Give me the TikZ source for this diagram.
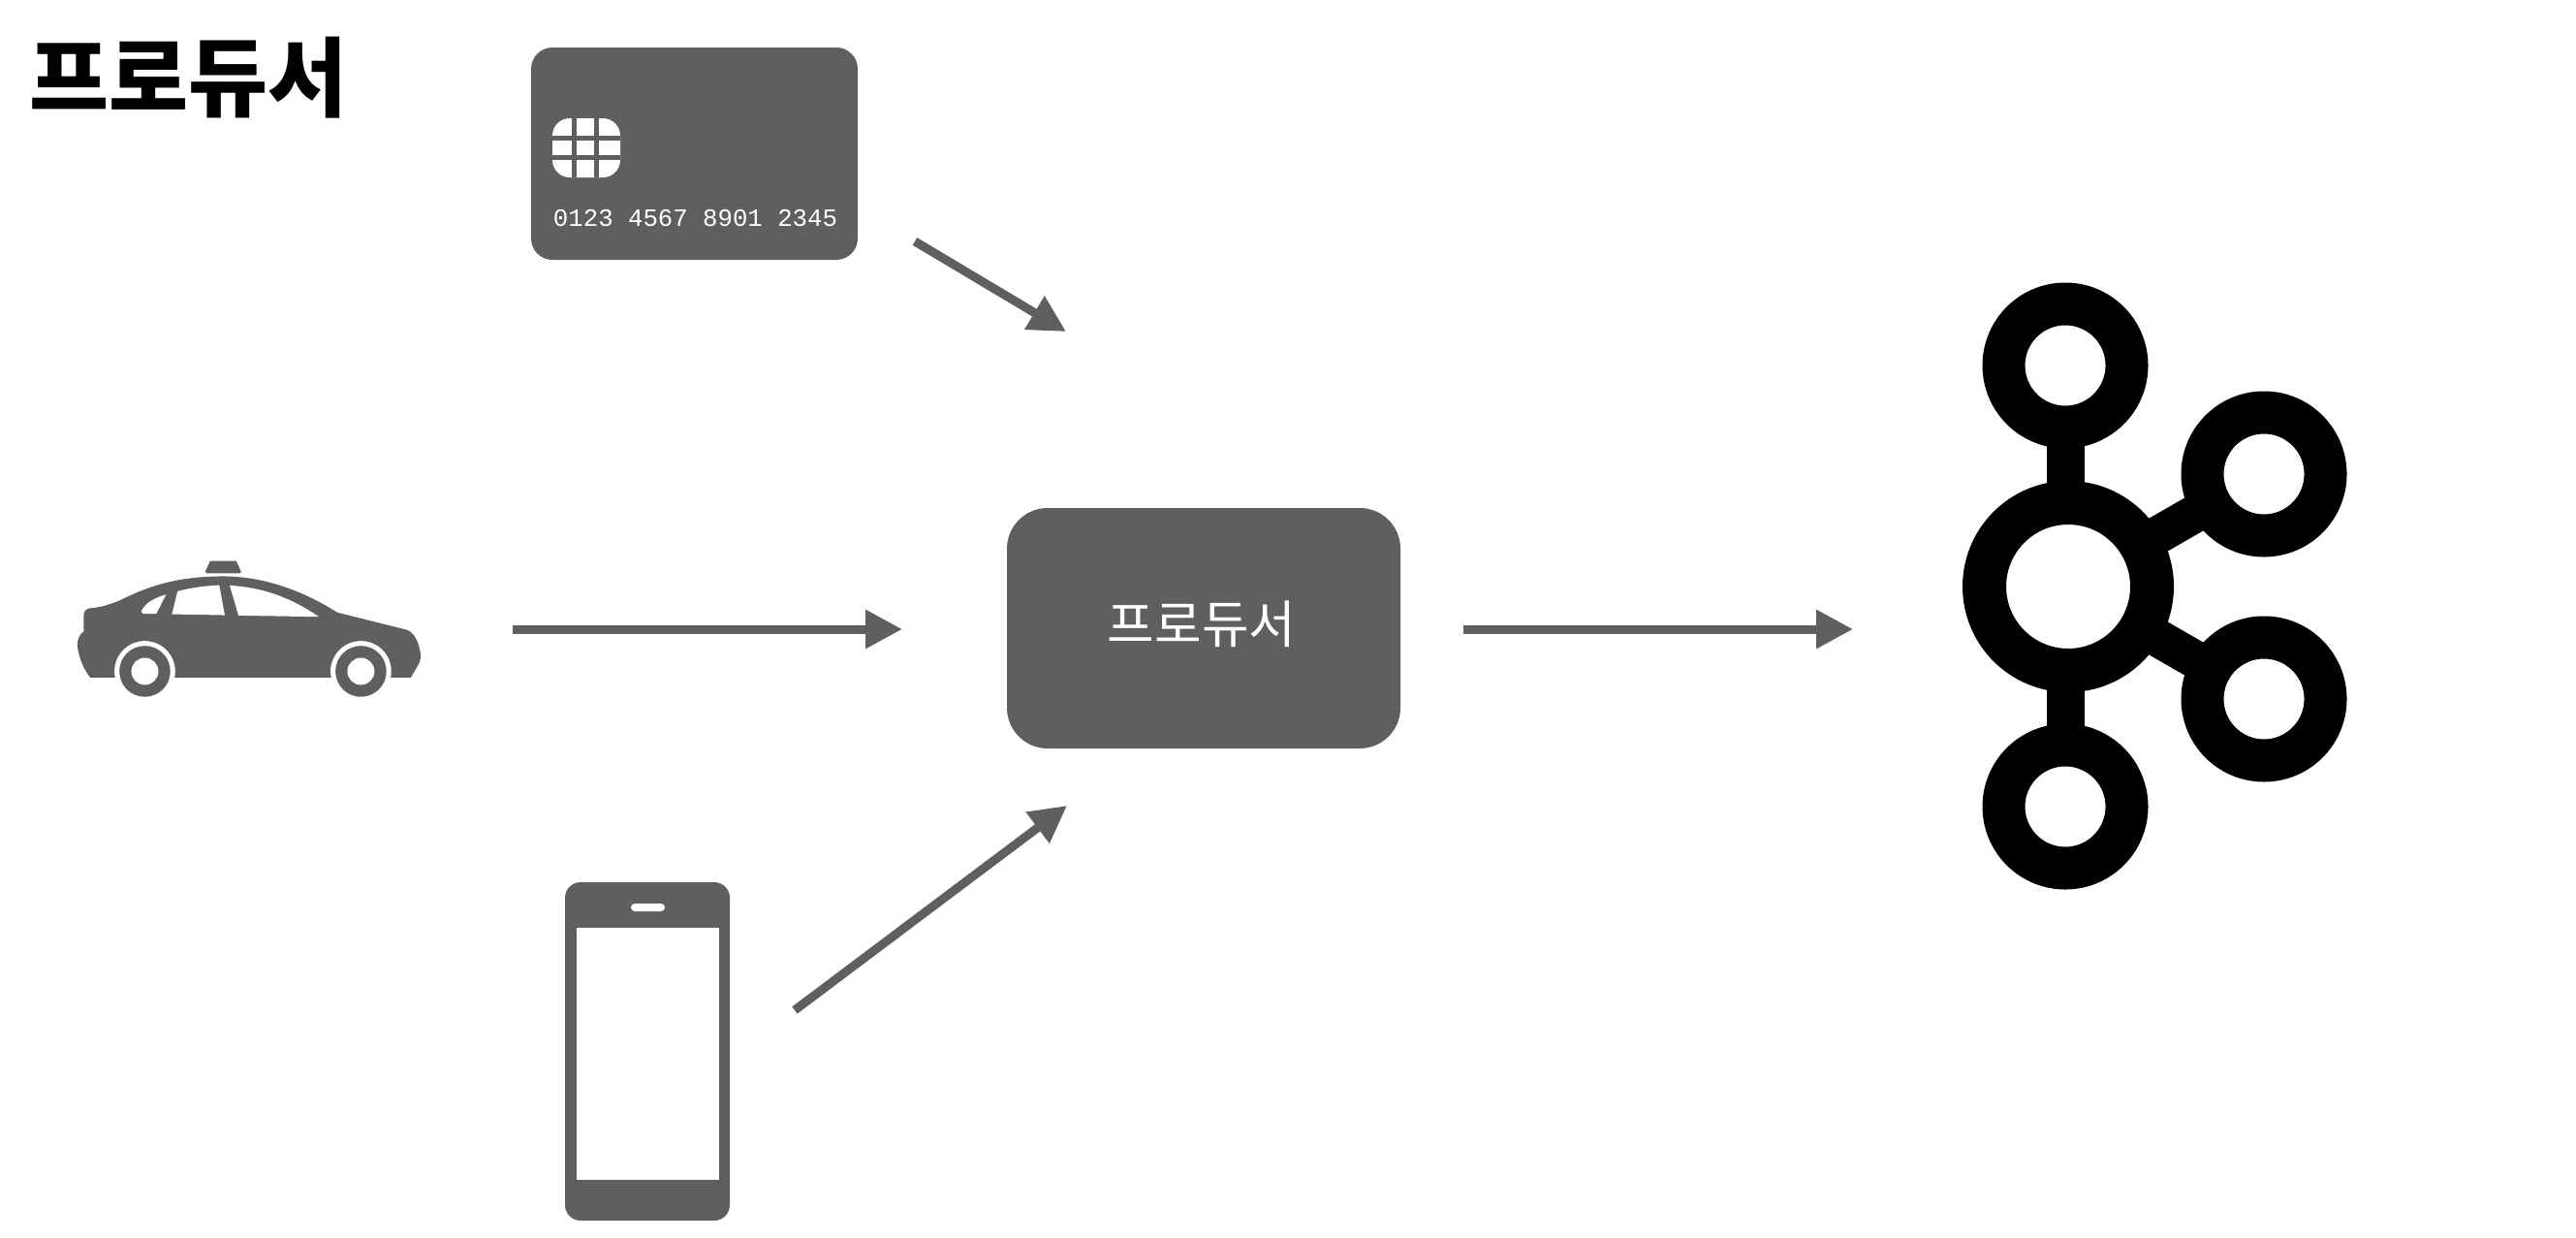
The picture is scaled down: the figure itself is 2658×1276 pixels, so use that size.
\documentclass[tikz,border=0pt]{standalone}
\usepackage{fontspec}
\usetikzlibrary{arrows.meta}
\newfontfamily\krfont{Noto Sans CJK KR}
\setmonofont{Liberation Mono}
\definecolor{ink}{HTML}{5F5F5F}
\tikzset{
  x=0.5pt,y=-0.5pt,
  flow/.style={draw=ink,line width=4.5pt,-{Triangle[length=19pt,width=19pt,fill=ink]}},
  panel/.style={fill=ink,draw=none,inner sep=0pt,outer sep=0pt},
  ring/.style={circle,draw=black,fill=white,inner sep=0pt,outer sep=0pt},
  bar/.style={draw=black,line width=19.5pt},
  chipline/.style={draw=ink,line width=2.5pt},
}
\begin{document}
\begin{tikzpicture}
\path[fill=white] (0,0) rectangle (2658,1276);
\useasboundingbox (0,0) rectangle (2658,1276);

% title
\node[inner sep=0pt,text=black] (title) at (194.5,80) {\fontsize{44.6}{44.6}\krfont\bfseries 프로듀서};

% card
\node[panel,rounded corners=11pt,minimum width=168.5pt,minimum height=109.5pt] (card) at (716.5,158.5) {};
\node[fill=white,rounded corners=9pt,minimum width=35pt,minimum height=30.5pt,inner sep=0pt] (chip) at (605,152.5) {};
\draw[chipline] (592.5,122) -- (592.5,183);
\draw[chipline] (615.5,122) -- (615.5,183);
\draw[chipline] (570,142) -- (640,142);
\draw[chipline] (570,162) -- (640,162);
\node[text=white,inner sep=0pt] (cardno) at (717.5,225) {\fontsize{12.85}{13}\ttfamily 0123 4567 8901 2345};

% car
\begin{scope}[shift={(40,550)},x=0.1684pt,y=-0.1684pt]
\fill[ink] (158,442) -- (1140,442) .. controls (1155,415) and (1170,395) .. (1170,380)
  .. controls (1170,350) and (1155,305) .. (1128,296) -- (915,243)
  .. controls (800,170) and (680,132) .. (565,132)
  .. controls (430,132) and (340,160) .. (250,205)
  .. controls (210,222) and (180,228) .. (155,230)
  .. controls (145,232) and (138,240) .. (138,250) -- (138,300)
  .. controls (125,310) and (118,325) .. (118,345)
  .. controls (125,390) and (140,420) .. (158,442) -- cycle;
\fill[ink] (525,85) -- (605,85) -- (620,118) -- (616,123) -- (515,123) -- (510,118) -- cycle;
\fill[white] (390,188) -- (360,247) -- (320,247) -- (314,240) .. controls (325,212) and (360,196) .. (390,188) -- cycle;
\fill[white] (425,178) -- (408,248) -- (570,251) -- (553,159) .. controls (500,162) and (460,168) .. (425,178) -- cycle;
\fill[white] (585,160) -- (612,252) -- (858,256) .. controls (770,195) and (680,165) .. (585,160) -- cycle;
\foreach \cx in {325,987}{
  \fill[white] (\cx,423) circle (93);
  \fill[ink] (\cx,423) circle (78);
  \fill[white] (\cx,423) circle (41.5);
}
\end{scope}

% phone
\node[panel,rounded corners=8pt,minimum width=85pt,minimum height=174.5pt] (phone) at (668,1084.5) {};
\node[fill=white,inner sep=0pt,minimum width=73.5pt,minimum height=130pt] (screen) at (668.5,1087) {};
\node[fill=white,rounded corners=2pt,inner sep=0pt,minimum width=17.5pt,minimum height=4pt] (speaker) at (668.5,936) {};

% producer box
\node[panel,rounded corners=21pt,minimum width=203pt,minimum height=124pt,text=white] (prod) at (1242,648) {};
\node[inner sep=0pt,text=white] (prodtext) at (1240,644) {\fontsize{26.4}{26.4}\krfont 프로듀서};

% arrows
\coordinate (a1s) at (944,249);  \coordinate (a1e) at (1100,342);
\coordinate (a2s) at (529,649);  \coordinate (a2e) at (931,649);
\coordinate (a3s) at (820,1042); \coordinate (a3e) at (1101,831);
\coordinate (a4s) at (1510,649); \coordinate (a4e) at (1912,649);
\draw[flow] (a1s) -- (a1e);
\draw[flow] (a2s) -- (a2e);
\draw[flow] (a3s) -- (a3e);
\draw[flow] (a4s) -- (a4e);

% kafka logo
\coordinate (kc) at (2134,605);
\coordinate (kt) at (2131,377);
\coordinate (kb) at (2131,832);
\coordinate (kr) at (2336,489);
\coordinate (ks) at (2336,721);
\draw[bar] (kc -| kt) -- (kt);
\draw[bar] (kc -| kb) -- (kb);
\draw[bar] (kc) -- (kr);
\draw[bar] (kc) -- (ks);
\node[ring,line width=22.5pt,minimum size=86.5pt] (k0) at (kc) {};
\node[ring,line width=22pt,minimum size=63.5pt] (k1) at (kt) {};
\node[ring,line width=22pt,minimum size=63.5pt] (k2) at (kb) {};
\node[ring,line width=22pt,minimum size=63.5pt] (k3) at (kr) {};
\node[ring,line width=22pt,minimum size=63.5pt] (k4) at (ks) {};
\end{tikzpicture}
\end{document}
